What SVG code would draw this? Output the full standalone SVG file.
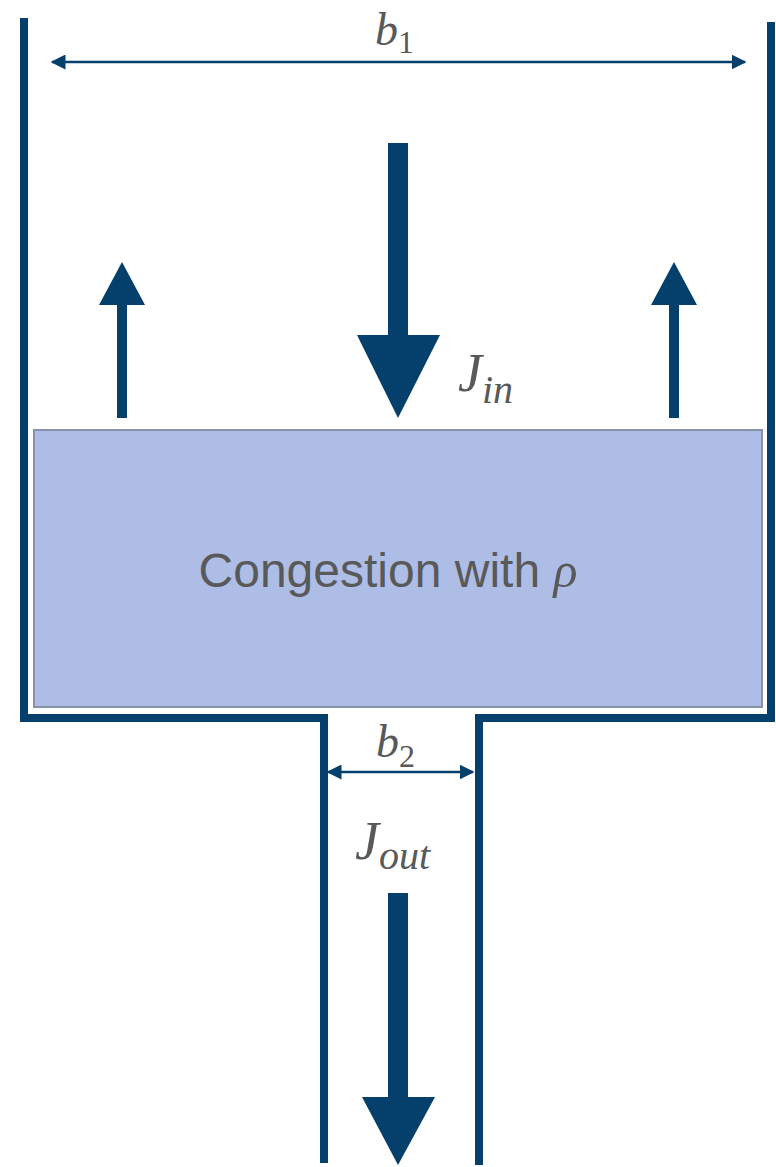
<svg xmlns="http://www.w3.org/2000/svg" width="776" height="1167" viewBox="0 0 776 1167">
<style>
.wall{fill:none;stroke:#053f6c;stroke-width:8}
.dim{stroke:#053f6c;stroke-width:2.5;fill:none}
.ar{fill:#053f6c}
.lbl{font-family:"Liberation Serif",serif;font-style:italic;fill:#595959}
.sub{font-family:"Liberation Serif",serif;fill:#595959}
.main{font-family:"Liberation Sans",Arial,sans-serif;fill:#595959;font-size:48px}
</style>
<defs>
<marker id="ah" viewBox="0 0 10 10" refX="9" refY="5" markerWidth="6" markerHeight="6" orient="auto-start-reverse" markerUnits="strokeWidth">
<path d="M0,0 L10,5 L0,10 z" fill="#053f6c"/>
</marker>
</defs>
<rect width="776" height="1167" fill="#fff"/>
<g id="walls">
<path class="wall" d="M24,18 V718 H324 V1163"/>
<path class="wall" d="M771,22 V718 H479 V1165"/>
</g>
<g id="congestion">
<rect x="34" y="430" width="728" height="277" fill="#adbde6" stroke="#8893ab" stroke-width="2"/>
<text class="main" x="388" y="587" text-anchor="middle">Congestion with <tspan font-family="Liberation Serif,serif" font-style="italic" font-size="50">ρ</tspan></text>
</g>
<g id="connectors">
<line class="dim" x1="52" y1="62" x2="745" y2="62" marker-start="url(#ah)" marker-end="url(#ah)"/>
<line class="dim" x1="328" y1="772" x2="473" y2="772" marker-start="url(#ah)" marker-end="url(#ah)"/>
<path class="ar" d="M388,143 H408 V335 H440 L398,418 L357,335 H388 Z"/>
<path class="ar" d="M117,418 V305 H99 L122,262 L145,305 H127 V418 Z"/>
<path class="ar" d="M669,418 V305 H651 L674,262 L697,305 H679 V418 Z"/>
<path class="ar" d="M388,893 H408 V1097 H435 L398,1165 L362,1097 H388 Z"/>
</g>
<g id="labels">
<text x="375" y="45"><tspan class="lbl" font-size="46">b</tspan><tspan class="sub" font-size="32" dy="8">1</tspan></text>
<text x="458" y="391"><tspan class="lbl" font-size="54">J</tspan><tspan class="lbl" font-size="40" dy="12">in</tspan></text>
<text x="376" y="757"><tspan class="lbl" font-size="46">b</tspan><tspan class="sub" font-size="32" dy="10">2</tspan></text>
<text x="355" y="859"><tspan class="lbl" font-size="54">J</tspan><tspan class="lbl" font-size="40" dy="10">out</tspan></text>
</g>
</svg>
